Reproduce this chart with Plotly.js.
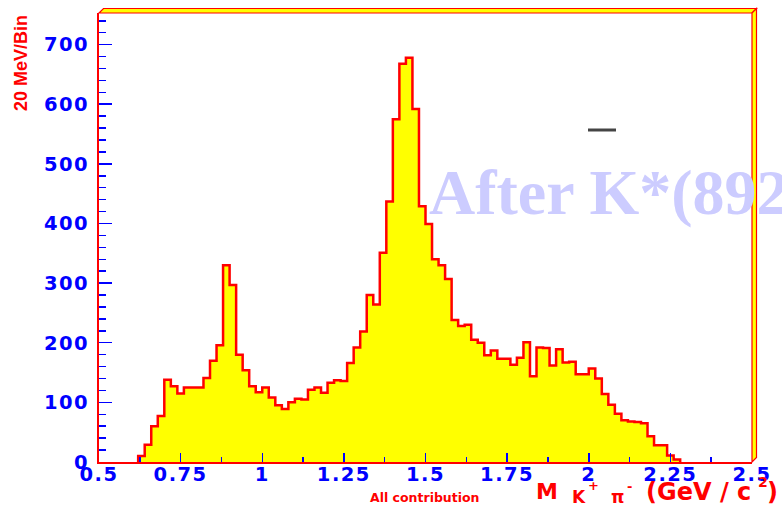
<!DOCTYPE html>
<html>
<head>
<meta charset="utf-8">
<script src="https://cdn.plot.ly/plotly-3.0.1.min.js"></script>
<style>
  html, body { margin: 0; padding: 0; background: #ffffff; }
  #chart { width: 782px; height: 506px; }
  #chart .xtick text, #chart .ytick text { letter-spacing: 1.5px; }
</style>
</head>
<body>
<div id="chart"></div>
<script>
// K+ pi- invariant mass spectrum, 20 MeV/c^2 bins
const binLow = 0.62;      // GeV/c^2, lower edge of the first filled bin
const binWidth = 0.02;    // GeV/c^2
const counts = [
  10, 29, 60, 77, 138, 127, 115, 125, 125, 125,
  141, 170, 196, 330, 297, 180, 154, 127, 117, 125,
  108, 95, 89, 100, 106, 105, 121, 125, 116, 133,
  137, 136, 166, 192, 219, 280, 264, 351, 437, 575,
  668, 678, 592, 429, 399, 340, 330, 307, 238, 228,
  230, 205, 200, 179, 187, 173, 173, 163, 175, 201,
  144, 192, 191, 162, 189, 167, 168, 147, 147, 157,
  140, 114, 96, 81, 70, 68, 67, 65, 43, 28,
  28, 11, 4
];

const xTickVals = [0.5, 0.75, 1, 1.25, 1.5, 1.75, 2, 2.25, 2.5];
const xTickText = ['0.5', '0.75', '1', '1.25', '1.5', '1.75', '2', '2.25', '2.5'];
const yTickVals = [0, 100, 200, 300, 400, 500, 600, 700];
const yTickText = ['0', '100', '200', '300', '400', '500', '600', '700'];

// Step contour: bin edges paired with bin contents, closed back to zero
const edges = [binLow];
const stepY = [0];
counts.forEach((c, i) => {
  edges.push(binLow + i * binWidth);
  stepY.push(c);
});
edges.push(binLow + counts.length * binWidth);
stepY.push(0);

// Canvas geometry
const W = 782, H = 506, L = 99, R = 30, T = 13, B = 44;
const plotW = W - L - R, plotH = H - T - B;
const px = x => (x - L) / plotW;
const py = y => (T + plotH - y) / plotH;

const RED = '#ff0000';
const BLUE = '#0000ff';
const YELLOW = '#ffff00';

const histo = {
  type: 'scatter',
  mode: 'lines',
  x: edges,
  y: stepY,
  line: { shape: 'hv', color: RED, width: 2.5 },
  fill: 'tozeroy',
  fillcolor: YELLOW,
  hoverinfo: 'skip'
};

// Raised frame bevel along the top and right edges
const d = 4.5;
const topBand = `M ${px(L)},${py(T)} L ${px(L + d)},${py(T - d)} L ${px(L + plotW + d)},${py(T - d)} L ${px(L + plotW)},${py(T)} Z`;
const rightBand = `M ${px(L + plotW)},${py(T)} L ${px(L + plotW + d)},${py(T - d)} L ${px(L + plotW + d)},${py(T + plotH - d)} L ${px(L + plotW)},${py(T + plotH)} Z`;

const boldFont = (family, size, color) => ({ family, size, color, weight: 'bold' });

const ann = (text, x, y, font, extra) => Object.assign({
  text, x: px(x), y: py(y), xref: 'paper', yref: 'paper',
  showarrow: false, xanchor: 'left', yanchor: 'middle', font
}, extra || {});

const layout = {
  width: W,
  height: H,
  margin: { l: L, r: R, t: T, b: B, pad: 0 },
  paper_bgcolor: '#ffffff',
  plot_bgcolor: '#ffffff',
  showlegend: false,
  xaxis: {
    range: [0.5, 2.5],
    tickmode: 'array',
    tickvals: xTickVals,
    ticktext: xTickText,
    ticks: 'inside',
    ticklen: 9,
    tickwidth: 1.5,
    tickcolor: BLUE,
    minor: { tickmode: 'linear', tick0: 0.5, dtick: 0.125, ticks: 'inside', ticklen: 5, tickwidth: 1.5, tickcolor: BLUE },
    tickfont: boldFont('DejaVu Sans', 19.5, BLUE),
    ticklabelstandoff: -6,
    showline: true,
    linecolor: RED,
    linewidth: 2,
    showgrid: false,
    zeroline: false,
    fixedrange: true
  },
  yaxis: {
    range: [0, 753],
    tickmode: 'array',
    tickvals: yTickVals,
    ticktext: yTickText,
    ticks: 'inside',
    ticklen: 13,
    tickwidth: 1.5,
    tickcolor: BLUE,
    minor: { tickmode: 'linear', tick0: 0, dtick: 20, ticks: 'inside', ticklen: 7, tickwidth: 1.5, tickcolor: BLUE },
    tickfont: boldFont('DejaVu Sans', 19.5, BLUE),
    ticklabelstandoff: 4,
    showline: true,
    linecolor: RED,
    linewidth: 2,
    showgrid: false,
    zeroline: false,
    fixedrange: true
  },
  shapes: [
    { type: 'path', xref: 'paper', yref: 'paper', path: topBand, fillcolor: YELLOW, line: { color: RED, width: 1.2 }, layer: 'above' },
    { type: 'path', xref: 'paper', yref: 'paper', path: rightBand, fillcolor: YELLOW, line: { color: RED, width: 1.2 }, layer: 'above' },
    // bar over the K in the watermark label
    { type: 'line', xref: 'paper', yref: 'paper', x0: px(588), x1: px(616), y0: py(130), y1: py(130), line: { color: '#444444', width: 3 }, layer: 'above' }
  ],
  annotations: [
    ann('After K*(892)', 427, 192.5, boldFont('Liberation Serif', 64, 'rgb(204,204,255)')),
    ann('20 MeV/Bin', 21, 63, boldFont('Liberation Sans', 18, RED), { textangle: -90, xanchor: 'center' }),
    ann('All contribution', 425, 497, boldFont('DejaVu Sans', 12.5, RED), { xanchor: 'center' }),
    ann('M', 534, 491, boldFont('DejaVu Sans', 22, RED)),
    ann('K', 570, 496.5, boldFont('DejaVu Sans', 17, RED)),
    ann('+', 586, 485, boldFont('DejaVu Sans', 13, RED)),
    ann('π', 609, 497, boldFont('DejaVu Sans', 17, RED)),
    ann('-', 625, 487, boldFont('DejaVu Sans', 13, RED)),
    ann('(GeV / c', 644, 491.7, boldFont('DejaVu Sans', 24, RED)),
    ann('2', 756, 482, boldFont('DejaVu Sans', 14, RED)),
    ann(')', 765, 491.7, boldFont('DejaVu Sans', 24, RED))
  ]
};

Plotly.newPlot('chart', [histo], layout, { displayModeBar: false, staticPlot: true });
</script>
</body>
</html>
